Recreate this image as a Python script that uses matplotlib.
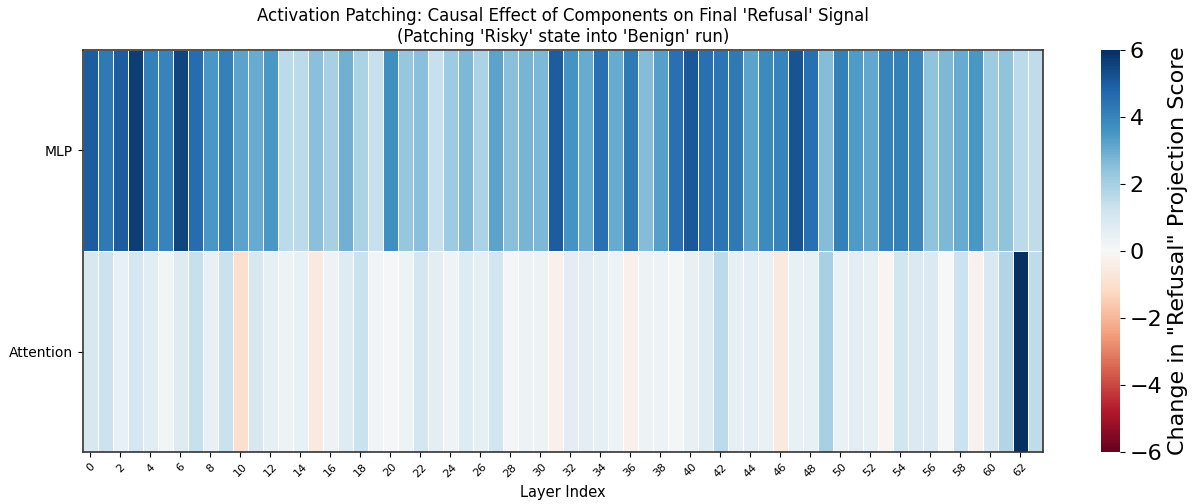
import numpy as np
import matplotlib
matplotlib.use('Agg')
import matplotlib.pyplot as plt

# Change in 'Refusal' projection score per layer
layers = list(range(64))
components = ['MLP', 'Attention']

mlp_effect = [5.0, 4.3, 5.0, 5.7, 4.1, 4.0, 5.5, 4.6, 3.5, 4.1,
              3.2, 3.0, 3.5, 1.6, 1.6, 2.5, 2.0, 2.9, 1.9, 1.4,
              3.7, 2.3, 2.5, 1.4, 2.2, 2.7, 1.9, 3.2, 2.5, 2.8,
              2.7, 5.0, 3.6, 3.0, 4.5, 3.0, 4.3, 2.6, 3.3, 4.5,
              5.1, 4.5, 4.4, 4.3, 3.2, 3.8, 4.0, 5.2, 4.5, 2.6,
              4.1, 3.4, 3.1, 4.0, 4.1, 3.9, 2.4, 2.7, 3.0, 3.5,
              2.2, 2.4, 1.6, 1.5]

attn_effect = [1.0, 1.3, 0.5, 1.1, 0.7, 0.15, 0.75, 1.4, 0.5, 1.35,
               -1.0, 1.0, 0.55, 0.3, 0.5, -0.6, 0.3, 0.75, 1.35, 0.2,
               0.05, 0.3, 1.1, 0.65, 0.25, 0.8, 0.55, 1.15, 0.1, 0.35,
               0.3, -0.3, 0.65, 0.65, 0.55, 0.35, -0.3, 0.3, 0.35, 0.1,
               0.45, 0.75, 1.6, 0.55, 0.6, 0.4, -0.6, 0.5, 0.5, 2.0,
               0.4, 0.65, 0.5, -0.1, 1.15, 0.9, 0.9, 0.0, 1.3, -0.25,
               0.95, 1.8, 6.2, 1.5]

data = np.array([mlp_effect, attn_effect])

fig = plt.figure(figsize=(11.92, 5.04), dpi=100)
ax = fig.add_axes([0.0696, 0.103, 0.8054, 0.798])
cax = fig.add_axes([0.9237, 0.103, 0.0159, 0.798])

mesh = ax.pcolormesh(data, cmap='RdBu', vmin=-6, vmax=6,
                     edgecolors='white', linewidth=0.5)
ax.set_xlim(0, len(layers))
ax.set_ylim(len(components), 0)

ax.set_xticks(np.arange(0, len(layers), 2) + 0.5)
ax.set_xticklabels([str(l) for l in layers[::2]], rotation=45, fontsize=8)
ax.set_yticks(np.arange(len(components)) + 0.5)
ax.set_yticklabels(components, fontsize=10)
for s in ax.spines.values():
    s.set_color('#333333')
    s.set_linewidth(1.2)

ax.set_xlabel('Layer Index', fontsize=10.5)
ax.set_title("Activation Patching: Causal Effect of Components on Final 'Refusal' Signal\n"
             "(Patching 'Risky' state into 'Benign' run)", fontsize=12)

cbar = fig.colorbar(mesh, cax=cax)
cbar.outline.set_visible(False)
cbar.set_ticks([-6, -4, -2, 0, 2, 4, 6])
cbar.ax.tick_params(labelsize=16)
cbar.set_label('Change in "Refusal" Projection Score', fontsize=16)

fig.savefig('out.png', dpi=100)
